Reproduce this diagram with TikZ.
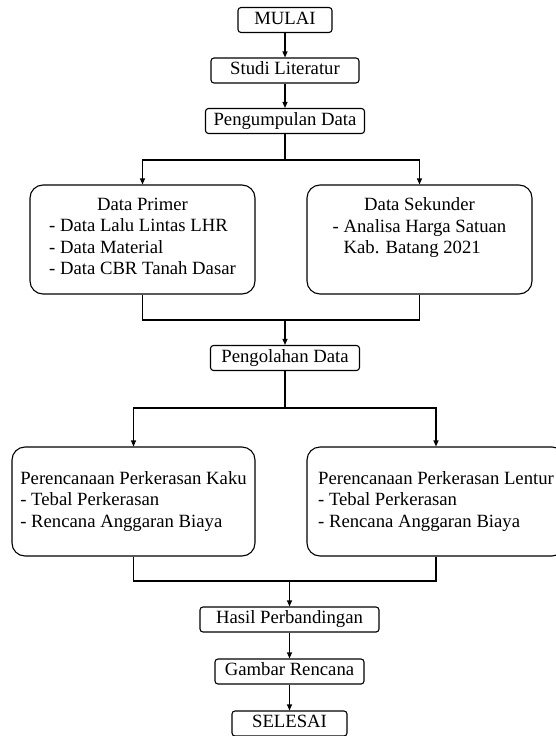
\documentclass[tikz,border=0pt]{standalone}
\usepackage{fontspec}
\setmainfont{Liberation Serif}
\usetikzlibrary{arrows.meta}

\begin{document}
\begin{tikzpicture}[x=1pt,y=-1pt,font=\fontsize{18.7}{21.5}\selectfont,
kotak/.style={draw, line width=1.1pt, rounded corners=3pt, inner sep=0pt, minimum height=25pt, text height=12.5pt, text depth=4pt},
kotakbesar/.style={draw, line width=1.1pt, rounded corners=13pt, inner sep=0pt, minimum height=109pt},
garis/.style={line width=1.1pt},
panah/.style={line width=1.1pt, -{Triangle[length=6pt,width=5pt]}}]
\useasboundingbox (0,0) rectangle (555,736);
\node[kotak, minimum width=94pt] (mulai) at (285,20) {MULAI};
\node[kotak, minimum width=148pt] (studi) at (285,70.5) {Studi Literatur};
\node[kotak, minimum width=159pt] (kumpul) at (285,121) {Pengumpulan Data};
\node[kotakbesar, minimum width=225pt, align=center] (primer) at (142.5,239.5) {Data Primer\\
 \begin{tabular}[t]{@{}l@{}}- Data Lalu Lintas LHR\\- Data Material\\- Data CBR Tanah Dasar\end{tabular}};
\node[kotakbesar, minimum width=225pt, align=center] (sekunder) at (419.5,239.5) {Data Sekunder\\
 \begin{tabular}[t]{@{}l@{}}- Analisa Harga Satuan\\\phantom{- }Kab. Batang 2021\\ \mbox{}\end{tabular}};
\node[kotak, minimum width=149pt] (olah) at (285,358) {Pengolahan Data};
\node[kotakbesar, minimum width=243pt, align=left] (kaku) at (133.5,501.5) {Perencanaan Perkerasan Kaku\\- Tebal Perkerasan\\- Rencana Anggaran Biaya};
\node[kotakbesar, minimum width=258pt, align=left] (lentur) at (436,501.5) {Perencanaan Perkerasan Lentur\\- Tebal Perkerasan\\- Rencana Anggaran Biaya};
\node[kotak, minimum width=179pt] (hasil) at (289.5,619.5) {Hasil Perbandingan};
\node[kotak, minimum width=149pt] (gambar) at (289.5,671.5) {Gambar Rencana};
\node[kotak, minimum width=115pt] (selesai) at (289.5,723.5) {SELESAI};
\coordinate (c1) at (285,160);
\coordinate (c2) at (285,320);
\coordinate (c3) at (285,408);
\coordinate (c4) at (289.5,581);
\foreach \a/\b in {mulai/studi,studi/kumpul,hasil/gambar,gambar/selesai}
 \draw[panah] (\a) -- (\b);
\draw[garis] (kumpul) -- (c1);
\draw[panah] (c1) -| (primer);
\draw[panah] (c1) -| (sekunder);
\draw[garis] (primer) |- (c2) -| (sekunder);
\draw[panah] (c2) -- (olah);
\draw[garis] (olah) -- (c3);
\draw[panah] (c3) -| (kaku);
\draw[panah] (c3) -| (lentur);
\draw[garis] (kaku) |- (c4) -| (lentur);
\draw[panah] (c4) -- (hasil);
\end{tikzpicture}
\end{document}
